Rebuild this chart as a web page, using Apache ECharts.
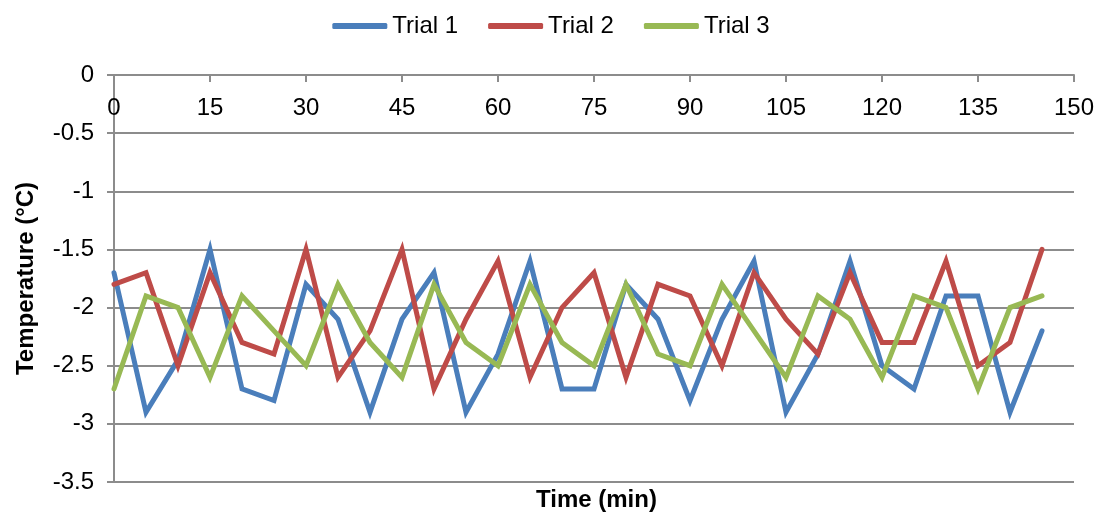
<!DOCTYPE html>
<html>
<head>
<meta charset="utf-8">
<title>Temperature over time</title>
<script src="https://cdn.jsdelivr.net/npm/echarts@6/dist/echarts.min.js"></script>
<style>
  html, body { margin: 0; padding: 0; background: #ffffff; }
  #chart { width: 1102px; height: 518px; }
</style>
</head>
<body>
<div id="chart"></div>
<script>
// Sampling times (minutes)
const times = [0, 5, 10, 15, 20, 25, 30, 35, 40, 45, 50, 55, 60, 65, 70,
               75, 80, 85, 90, 95, 100, 105, 110, 115, 120, 125, 130, 135, 140, 145];

// Temperatures (°C) for each trial
const trial1 = [-1.7, -2.9, -2.45, -1.5, -2.7, -2.8, -1.8, -2.1, -2.9, -2.1,
                -1.7, -2.9, -2.4, -1.6, -2.7, -2.7, -1.8, -2.1, -2.8, -2.1,
                -1.6, -2.9, -2.4, -1.6, -2.5, -2.7, -1.9, -1.9, -2.9, -2.2];
const trial2 = [-1.8, -1.7, -2.5, -1.7, -2.3, -2.4, -1.5, -2.6, -2.2, -1.5,
                -2.7, -2.1, -1.6, -2.6, -2.0, -1.7, -2.6, -1.8, -1.9, -2.5,
                -1.7, -2.1, -2.4, -1.7, -2.3, -2.3, -1.6, -2.5, -2.3, -1.5];
const trial3 = [-2.7, -1.9, -2.0, -2.6, -1.9, -2.2, -2.5, -1.8, -2.3, -2.6,
                -1.8, -2.3, -2.5, -1.8, -2.3, -2.5, -1.8, -2.4, -2.5, -1.8,
                -2.2, -2.6, -1.9, -2.1, -2.6, -1.9, -2.0, -2.7, -2.0, -1.9];

const seriesNames = ['Trial 1', 'Trial 2', 'Trial 3'];
const seriesColors = ['#4a7ebb', '#be4b48', '#98b954'];

const FONT = '"Liberation Sans", Arial, sans-serif';
const GRID_COLOR = '#8c8c8c';

function pairs(values) {
  return times.map((t, i) => [t, values[i]]);
}

const chart = echarts.init(document.getElementById('chart'), null, { renderer: 'canvas' });

chart.setOption({
  backgroundColor: '#ffffff',
  animation: false,
  textStyle: { fontFamily: FONT },
  legend: {
    top: 9,
    left: 'center',
    icon: 'roundRect',
    itemWidth: 55,
    itemHeight: 6,
    itemGap: 30,
    textStyle: { fontFamily: FONT, fontSize: 24, color: '#000000' },
    data: seriesNames
  },
  grid: { left: 114, right: 28, top: 75, bottom: 36, outerBoundsMode: 'none', containLabel: false },
  xAxis: {
    type: 'value',
    position: 'top',
    min: 0,
    max: 150,
    interval: 15,
    axisLine: { show: true, onZero: false, lineStyle: { color: GRID_COLOR, width: 2 } },
    axisTick: { show: true, inside: true, length: 7, lineStyle: { color: GRID_COLOR, width: 2 } },
    axisLabel: { inside: true, fontFamily: FONT, fontSize: 24, color: '#000000', margin: 21 },
    splitLine: { show: false }
  },
  yAxis: {
    type: 'value',
    min: -3.5,
    max: 0,
    interval: 0.5,
    name: 'Temperature (°C)',
    nameLocation: 'middle',
    nameGap: 76,
    nameTextStyle: { fontFamily: FONT, fontSize: 24, fontWeight: 'bold', color: '#000000' },
    axisLine: { show: true, onZero: false, lineStyle: { color: GRID_COLOR, width: 2 } },
    axisTick: { show: true, length: 7, lineStyle: { color: GRID_COLOR, width: 2 } },
    axisLabel: { fontFamily: FONT, fontSize: 24, color: '#000000', margin: 20 },
    splitLine: { show: true, lineStyle: { color: GRID_COLOR, width: 2 } }
  },
  graphic: [{
    type: 'text',
    left: 536,
    top: 488,
    style: {
      text: 'Time (min)',
      font: 'bold 24px ' + FONT,
      fill: '#000000'
    }
  }],
  series: [trial1, trial2, trial3].map((vals, i) => ({
    name: seriesNames[i],
    type: 'line',
    data: pairs(vals),
    symbol: 'none',
    color: seriesColors[i],
    itemStyle: { color: seriesColors[i] },
    lineStyle: { width: 5, color: seriesColors[i], cap: 'round', join: 'miter' },
    emphasis: { disabled: true },
    z: 3 + i
  }))
});
</script>
</body>
</html>
